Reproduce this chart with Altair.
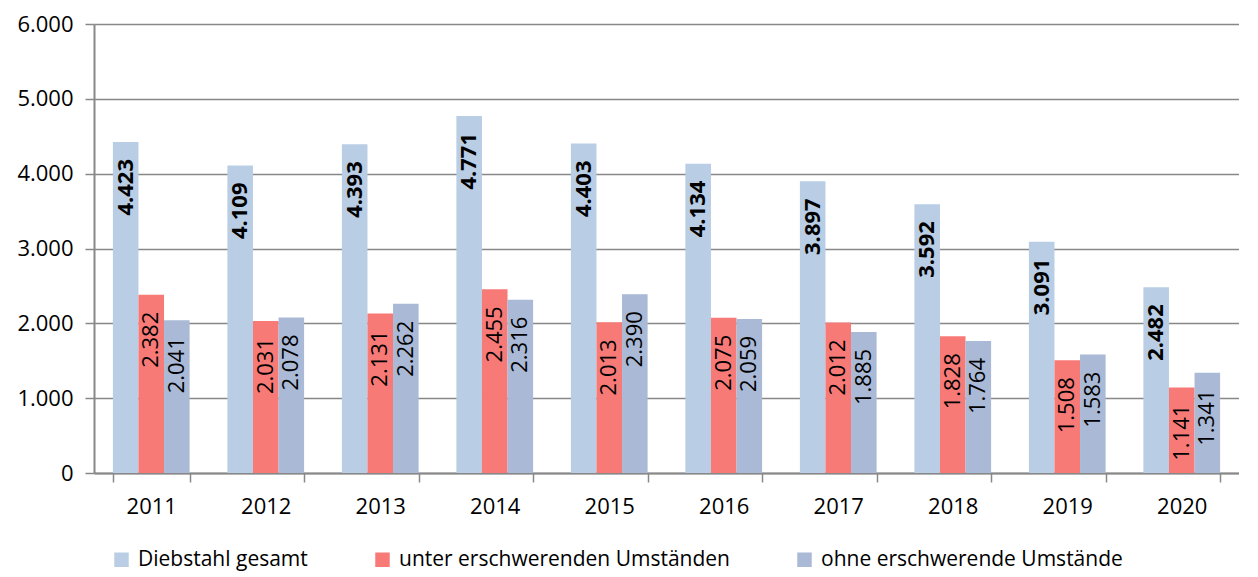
import altair as alt
import pandas as pd

years = ["2011", "2012", "2013", "2014", "2015", "2016", "2017", "2018", "2019", "2020"]
series = ["Diebstahl gesamt", "unter erschwerenden Umständen", "ohne erschwerende Umstände"]
gesamt = [4423, 4109, 4393, 4771, 4403, 4134, 3897, 3592, 3091, 2482]
unter = [2382, 2031, 2131, 2455, 2013, 2075, 2012, 1828, 1508, 1141]
ohne = [2041, 2078, 2262, 2316, 2390, 2059, 1885, 1764, 1583, 1341]
colors = ["#B9CDE5", "#F77A77", "#A9B9D6"]

rows = []
for s, vals in zip(series, [gesamt, unter, ohne]):
    for y, v in zip(years, vals):
        rows.append({"Jahr": y, "Reihe": s, "Wert": v, "Label": f"{v:,}".replace(",", ".")})
df = pd.DataFrame(rows)

FONT = "Open Sans"

base = alt.Chart(df).encode(
    x=alt.X("Jahr:N", sort=years, title=None,
            scale=alt.Scale(paddingInner=0.33, paddingOuter=0.165),
            axis=alt.Axis(labelAngle=0, labelFontSize=22, labelColor="#000000",
                          labelPadding=14, tickBand="extent", ticks=True, tickSize=9,
                          tickColor="#888888", tickWidth=1.5, domainColor="#888888",
                          domainWidth=2, grid=False, labelFont=FONT)),
    xOffset=alt.XOffset("Reihe:N", sort=series),
)

bars = base.mark_bar().encode(
    y=alt.Y("Wert:Q", title=None,
            scale=alt.Scale(domain=[0, 6000]),
            axis=alt.Axis(values=[0, 1000, 2000, 3000, 4000, 5000, 6000],
                          labelExpr="replace(format(datum.value, ','), ',', '.')",
                          labelFontSize=22, labelColor="#000000", labelFont=FONT,
                          labelPadding=12, tickSize=9, tickColor="#888888", tickWidth=1.5,
                          domainColor="#888888", domainWidth=2,
                          gridColor="#888888", gridWidth=1.5)),
    color=alt.Color("Reihe:N", sort=series,
                    scale=alt.Scale(domain=series, range=colors),
                    legend=alt.Legend(title=None, orient="none", direction="horizontal",
                                      legendX=17, legendY=525, symbolType="square",
                                      symbolSize=210, symbolStrokeWidth=0, labelFontSize=21,
                                      labelFont=FONT, labelColor="#000000", labelLimit=0,
                                      columnPadding=64, labelOffset=6, padding=0)),
)

text_bold = base.transform_filter(alt.datum.Reihe == series[0]).mark_text(
    angle=270, align="right", baseline="middle", dx=-17, fontSize=22,
    fontWeight="bold", font=FONT, color="#000000"
).encode(y="Wert:Q", text="Label:N")

text_norm = base.transform_filter(alt.datum.Reihe != series[0]).mark_text(
    angle=270, align="right", baseline="middle", dx=-17, fontSize=22,
    font=FONT, color="#000000"
).encode(y="Wert:Q", text="Label:N")

chart = alt.layer(bars, text_bold, text_norm).properties(
    width=1145, height=449,
    padding={"left": 8, "top": 5, "right": 0, "bottom": 6},
).configure_view(stroke=None).configure_axis(labelFont=FONT)

chart.save("out.html", embed_options={"renderer": "svg", "actions": False})
